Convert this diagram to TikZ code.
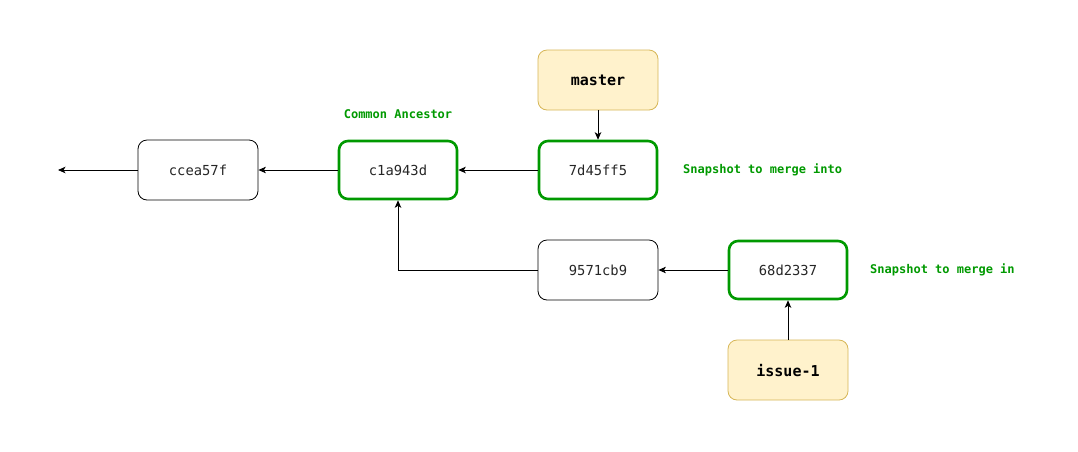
\documentclass[tikz,border=0pt]{standalone}
\usepackage{fontspec}
\setmonofont{DejaVu Sans Mono}
\usetikzlibrary{arrows.meta}
\definecolor{grn}{HTML}{009900}
\definecolor{yfill}{HTML}{FFF2CC}
\definecolor{ydraw}{HTML}{D6B656}
\begin{document}
\begin{tikzpicture}[x=1pt,y=-1pt,
  commit/.style={draw=black,line width=0.8pt,rounded corners=9pt,minimum width=120pt,minimum height=60pt,inner sep=0pt,font=\ttfamily\fontsize{13.8}{16}\selectfont,text=black!85},
  keycommit/.style={commit,draw=grn,line width=2.6pt,minimum width=118pt,minimum height=58pt},
  branch/.style={draw=ydraw,fill=yfill,line width=0.8pt,rounded corners=9pt,minimum width=120pt,minimum height=60pt,inner sep=0pt,font=\ttfamily\bfseries\fontsize{15}{18}\selectfont},
  note/.style={font=\ttfamily\bfseries\fontsize{12}{14}\selectfont,text=grn,inner sep=0pt},
  conn/.style={line width=0.8pt,-{Stealth[length=7.5pt,width=6.5pt,inset=2pt]}}]
\useasboundingbox (0,0) rectangle (1078,451);
\node[commit] (c1) at (198,170) {ccea57f};
\node[keycommit] (c2) at (398,170) {c1a943d};
\node[keycommit] (c3) at (598,170) {7d45ff5};
\node[branch] (master) at (598,80) {master};
\node[commit] (c4) at (598,270) {9571cb9};
\node[keycommit] (c5) at (788,270) {68d2337};
\node[branch] (issue) at (788,370) {issue-1};
\coordinate (end) at (58,170);
\node[note] (anc) at (398,114) {Common Ancestor};
\node[note,anchor=west] (into) at (683,170) {Snapshot to merge into};
\node[note,anchor=west] (in) at (870,270) {Snapshot to merge in};
\draw[conn] (c1) -- (end);
\draw[conn] (c3) -- (c2);
\draw[conn] (c2) -- (c1);
\draw[conn] (master) -- (c3);
\draw[conn] (c5) -- (c4);
\draw[conn] (issue) -- (c5);
\draw[conn] (c4.west) -| (c2.south);
\end{tikzpicture}
\end{document}
